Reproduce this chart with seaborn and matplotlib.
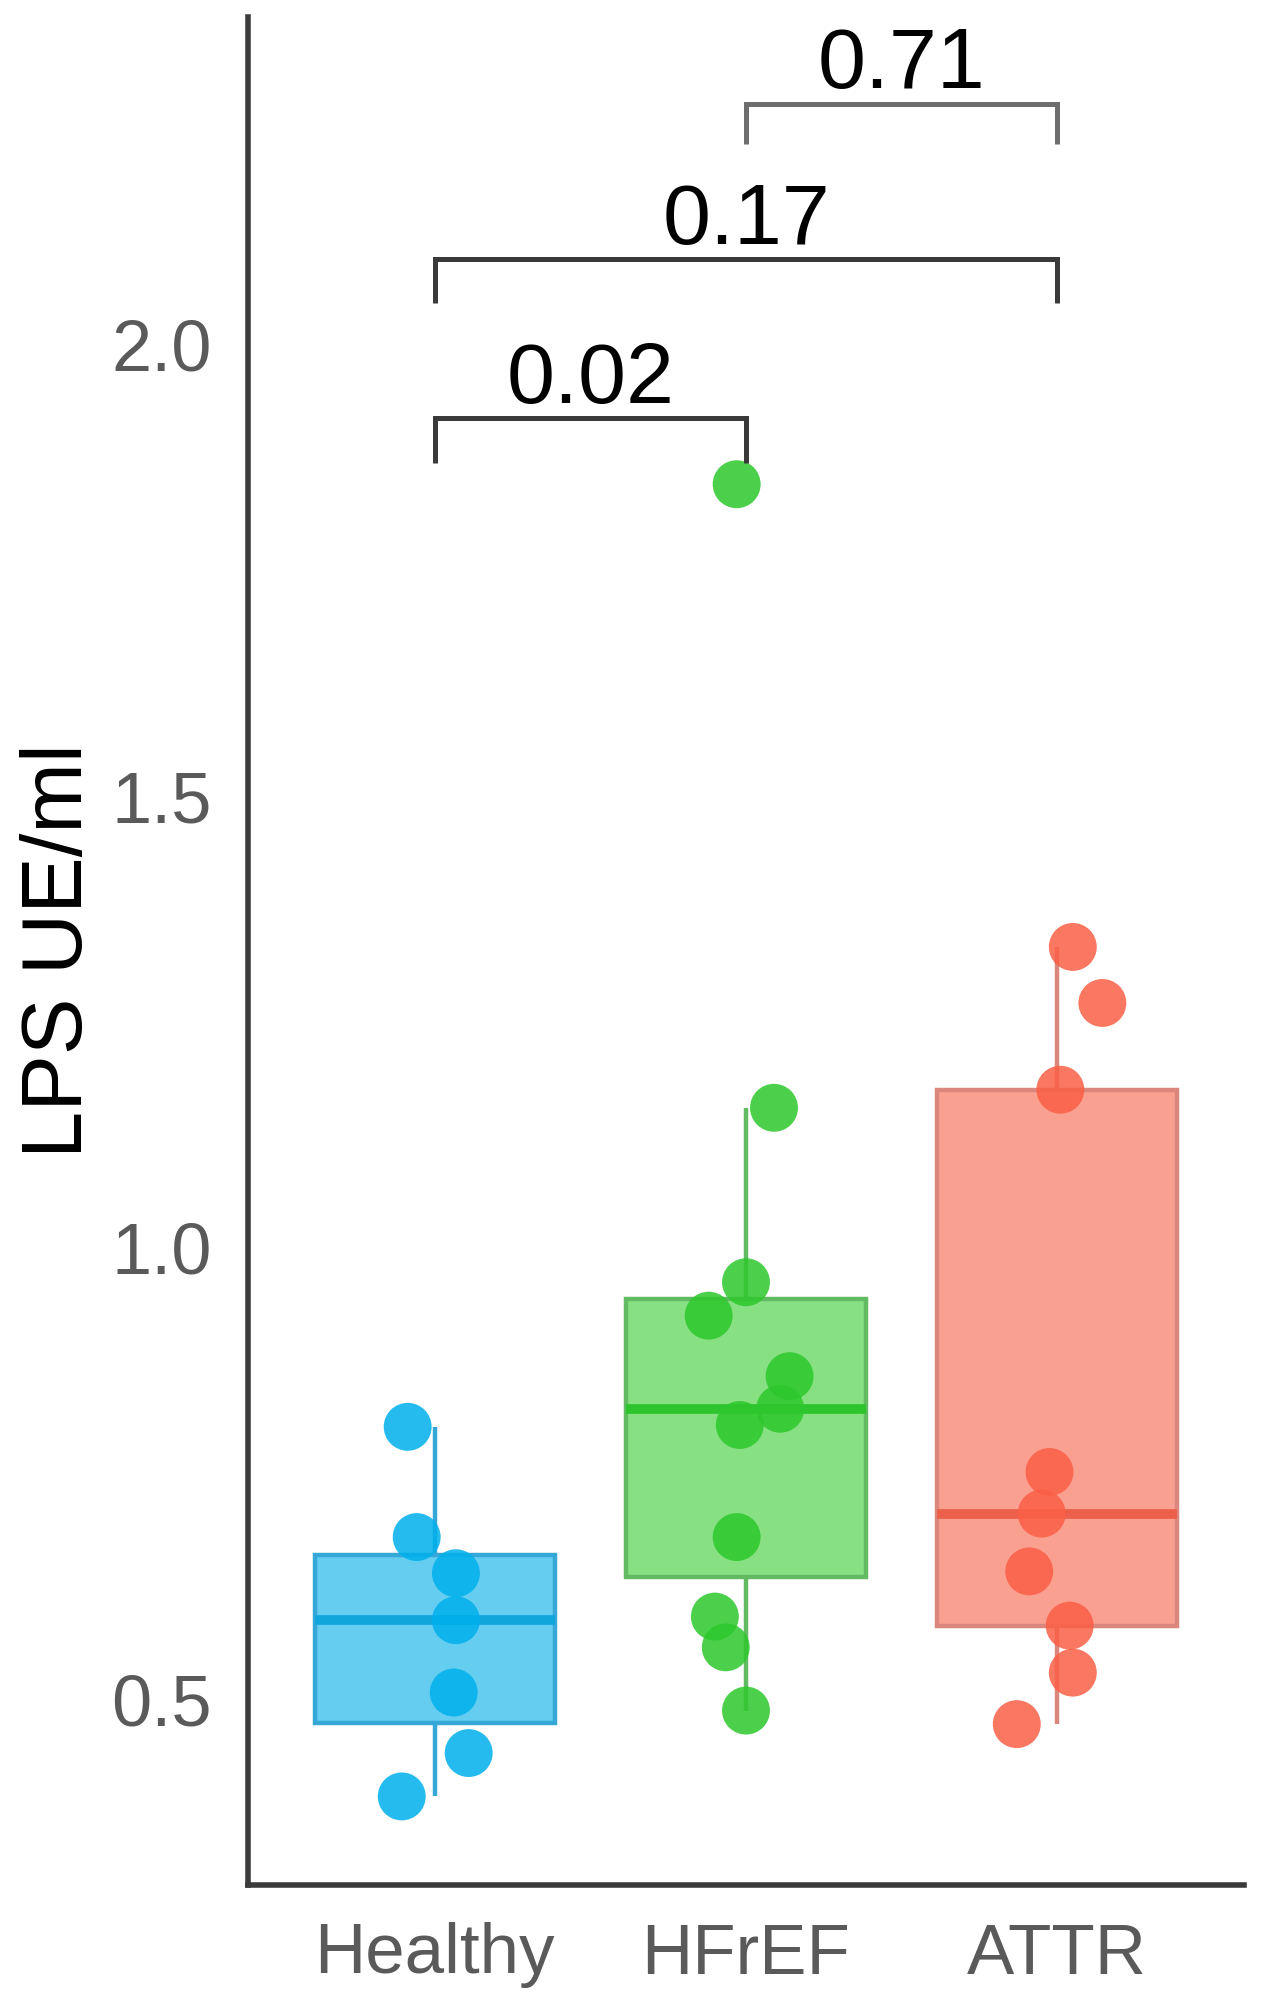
import matplotlib
matplotlib.use("Agg")
import matplotlib.pyplot as plt
import seaborn as sns
import pandas as pd
import numpy as np

# ---------------- data ----------------
categories = ["Healthy", "HFrEF", "ATTR"]

healthy_vals = [0.802, 0.680, 0.640, 0.588, 0.508, 0.441, 0.393]
healthy_jit = [-0.087, -0.058, 0.068, 0.068, 0.061, 0.109, -0.106]

hfref_vals = [1.845, 1.155, 0.962, 0.925, 0.858, 0.822, 0.804, 0.680, 0.592, 0.558, 0.488]
hfref_jit = [-0.03, 0.09, 0.0, -0.12, 0.14, 0.11, -0.02, -0.03, -0.10, -0.065, 0.0]

attr_vals = [1.333, 1.271, 1.175, 0.752, 0.706, 0.642, 0.582, 0.530, 0.473]
attr_jit = [0.05, 0.145, 0.01, -0.025, -0.05, -0.09, 0.04, 0.05, -0.13]

bracket_pairs = [(0, 1), (0, 2), (1, 2)]
bracket_y = [1.918, 2.094, 2.266]
bracket_tip = [0.049, 0.049, 0.045]
bracket_labels = ["0.02", "0.17", "0.71"]

y_label = "LPS UE/ml"
y_ticks = [0.5, 1.0, 1.5, 2.0]

# ---------------- styles ----------------
point_colors = ["#00B0EC", "#2DC82D", "#FA5F46"]
fill_colors = ["#64CDF0", "#87E182", "#FAA091"]
edge_colors = ["#36A8D8", "#62BA62", "#DC877D"]
median_colors = ["#10A6DC", "#2EC42E", "#EB5F4B"]
bracket_colors = ["#3a3a3a", "#3a3a3a", "#6e6e6e"]

sns.set_style("white")
plt.rcParams["font.family"] = ["Liberation Sans", "DejaVu Sans"]

frames = []
for cat, vals, jit in [(categories[0], healthy_vals, healthy_jit),
                       (categories[1], hfref_vals, hfref_jit),
                       (categories[2], attr_vals, attr_jit)]:
    frames.append(pd.DataFrame({"group": cat, "value": vals, "jit": jit}))
df = pd.concat(frames, ignore_index=True)
df["xpos"] = df["group"].map({c: i for i, c in enumerate(categories)}) + df["jit"]

fig = plt.figure(figsize=(12.67, 20.12), dpi=100)
ax = fig.add_axes([248 / 1267, 1 - 1885 / 2012, (1244 - 248) / 1267, (1885 - 17) / 2012])

for i, cat in enumerate(categories):
    sub = df[df["group"] == cat]
    sns.boxplot(data=sub, x="group", y="value", order=categories,
                color=fill_colors[i], linecolor=edge_colors[i], linewidth=3.2,
                width=0.77, saturation=1, showcaps=False, showfliers=False,
                medianprops=dict(color=median_colors[i], linewidth=7),
                whiskerprops=dict(color=edge_colors[i], linewidth=3.2),
                ax=ax)

sns.scatterplot(data=df, x="xpos", y="value", hue="group", hue_order=categories,
                palette=dict(zip(categories, point_colors)), s=1190, alpha=0.85,
                linewidth=0, legend=False, zorder=5, ax=ax)

# significance brackets
for (a, b), yv, tip, lab, col in zip(bracket_pairs, bracket_y, bracket_tip,
                                     bracket_labels, bracket_colors):
    ax.plot([a, a, b, b], [yv - tip, yv, yv, yv - tip], color=col,
            linewidth=3.6, solid_joinstyle="miter", solid_capstyle="butt",
            zorder=6, clip_on=False)
    ax.text((a + b) / 2, yv + 0.017, lab, ha="center", va="baseline",
            fontsize=62, color="black", zorder=7)

ax.set_xlim(-0.6, 2.6)
ax.set_ylim(0.295, 2.362)
ax.set_xticks(range(len(categories)))
ax.set_xticklabels(categories)
ax.set_yticks(y_ticks)
ax.set_yticklabels([f"{t:.1f}" for t in y_ticks])
ax.set_xlabel("")
ax.set_ylabel(y_label, fontsize=61, color="black", labelpad=8)

for s in ["top", "right"]:
    ax.spines[s].set_visible(False)
for s in ["left", "bottom"]:
    ax.spines[s].set_linewidth(4.0)
    ax.spines[s].set_color("#3b3b3b")

ax.tick_params(axis="both", which="major", length=14, width=3, color="#444444",
               labelsize=52, labelcolor="#5a5a5a")
ax.tick_params(axis="y", pad=12)
ax.tick_params(axis="x", pad=13, labelsize=51)

fig.savefig("out.png", dpi=100, facecolor="white")
